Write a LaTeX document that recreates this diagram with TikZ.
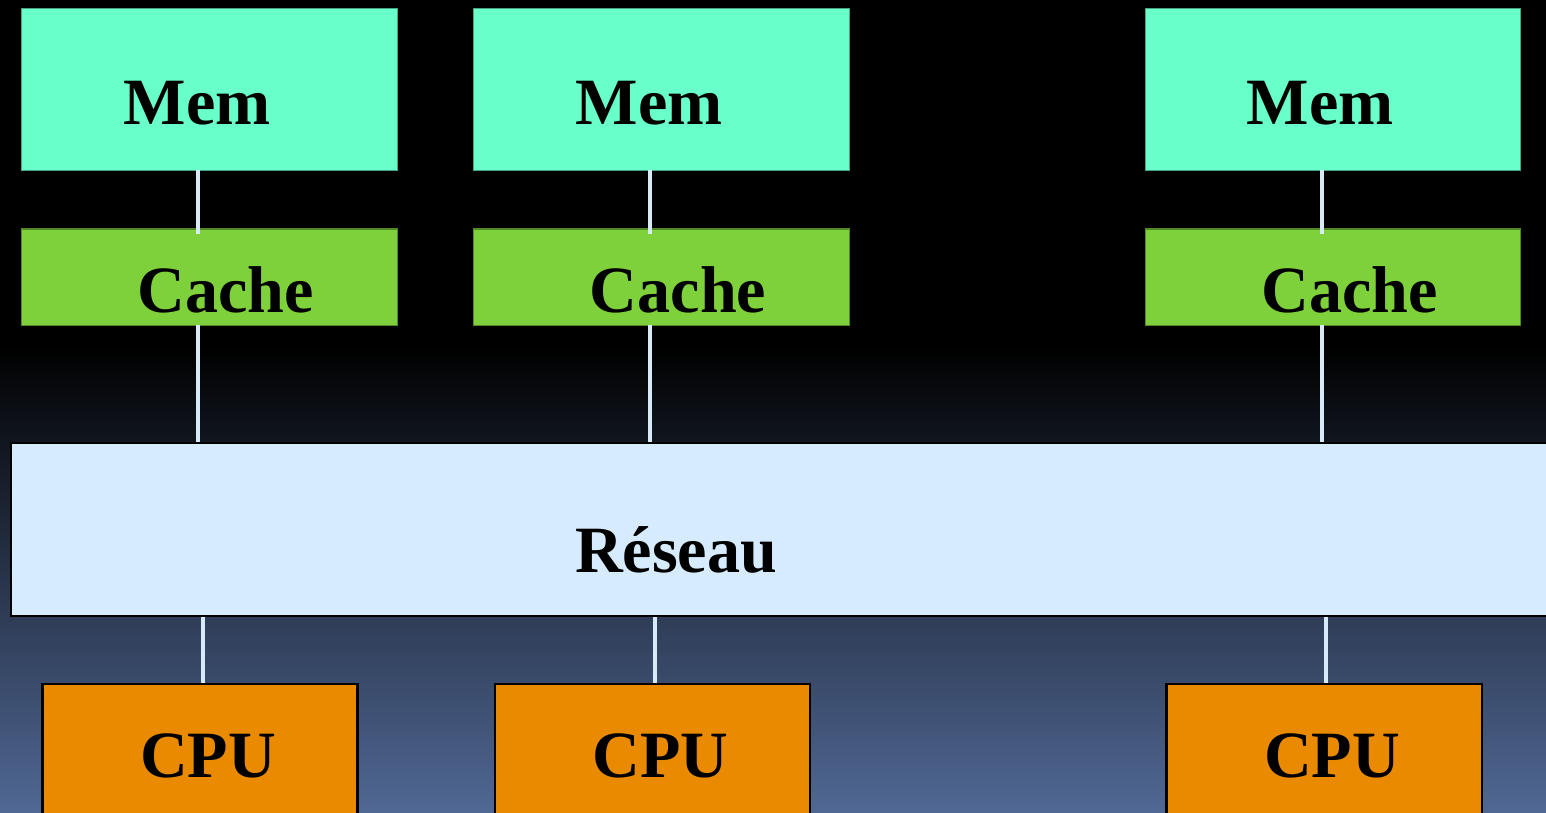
\documentclass[tikz,border=0pt]{standalone}
\usepackage{fontspec}
\setmainfont{Liberation Serif}
\definecolor{memfill}{HTML}{69FFCB}
\definecolor{cachefill}{HTML}{7FD13B}
\definecolor{netfill}{HTML}{D6EBFD}
\definecolor{cpufill}{HTML}{E98A00}
\definecolor{wire}{HTML}{D6EAF8}
\definecolor{bgblue}{HTML}{506894}
\tikzset{
  unitbox/.style={rectangle, inner sep=0pt, outer sep=0pt},
  membox/.style={unitbox, fill=memfill, draw=memfill!65!black, line width=0.3pt,
    minimum width=3.75cm, minimum height=1.61cm},
  cachebox/.style={unitbox, fill=cachefill, draw=cachefill!65!black, line width=0.3pt,
    minimum width=3.75cm, minimum height=0.96cm},
  netbox/.style={unitbox, fill=netfill, draw=black, line width=0.22mm},
  cpubox/.style={unitbox, fill=cpufill, draw=black, line width=0.22mm,
    minimum width=3.15cm, minimum height=1.6cm},
  lbl/.style={inner sep=0pt, anchor=base, font=\fontsize{18.8}{22}\selectfont\bfseries},
  wireline/.style={draw=wire, line width=0.45mm}
}
\begin{document}
\begin{tikzpicture}[x=0.01cm, y=-0.01cm]
  \clip (0,0) rectangle (1546,812);
  % background: black top, fading into slate blue
  \fill[black] (0,0) rectangle (1546,346);
  \shade[top color=black, bottom color=bgblue] (0,345) rectangle (1546,812);

  % memories
  \node[membox] (mem1) at (209.5,89.5) {};
  \node[membox] (mem2) at (661.5,89.5) {};
  \node[membox] (mem3) at (1333,89.5) {};
  % caches
  \node[cachebox] (cache1) at (209.5,277) {};
  \node[cachebox] (cache2) at (661.5,277) {};
  \node[cachebox] (cache3) at (1333,277) {};
  % network
  \node[netbox, minimum width=15.6cm, minimum height=1.73cm, anchor=north west] (net) at (11,443) {};
  % processors
  \node[cpubox, anchor=north] (cpu1) at (200,684) {};
  \node[cpubox, anchor=north] (cpu2) at (652.5,684) {};
  \node[cpubox, anchor=north] (cpu3) at (1324,684) {};

  % links memory - cache - network
  \draw[wireline] (mem1.south -| 198,0) -- ([yshift=-0.05cm]cache1.north -| 198,0);
  \draw[wireline] (mem2.south -| 650,0) -- ([yshift=-0.05cm]cache2.north -| 650,0);
  \draw[wireline] (mem3.south -| 1322,0) -- ([yshift=-0.05cm]cache3.north -| 1322,0);
  \draw[wireline] (cache1.south -| 198,0) -- ([yshift=0.01cm]net.north -| 198,0);
  \draw[wireline] (cache2.south -| 650,0) -- ([yshift=0.01cm]net.north -| 650,0);
  \draw[wireline] (cache3.south -| 1322,0) -- ([yshift=0.01cm]net.north -| 1322,0);
  % links network - processors
  \draw[wireline] ([yshift=-0.01cm]net.south -| 203,0) -- ([yshift=0.01cm]cpu1.north -| 203,0);
  \draw[wireline] ([yshift=-0.01cm]net.south -| 655,0) -- ([yshift=0.01cm]cpu2.north -| 655,0);
  \draw[wireline] ([yshift=-0.01cm]net.south -| 1326,0) -- ([yshift=0.01cm]cpu3.north -| 1326,0);

  % labels
  \node[lbl] (tmem1) at (197,124) {Mem};
  \node[lbl] (tmem2) at (649,124) {Mem};
  \node[lbl] (tmem3) at (1320,124) {Mem};
  \node[lbl] (tcache1) at (225.5,312) {Cache};
  \node[lbl] (tcache2) at (678,312) {Cache};
  \node[lbl] (tcache3) at (1349.5,312) {Cache};
  \node[lbl] (tnet) at (676,572) {Réseau};
  \node[lbl] (tcpu1) at (208,777) {CPU};
  \node[lbl] (tcpu2) at (660.5,777) {CPU};
  \node[lbl] (tcpu3) at (1332,777) {CPU};
\end{tikzpicture}
\end{document}
